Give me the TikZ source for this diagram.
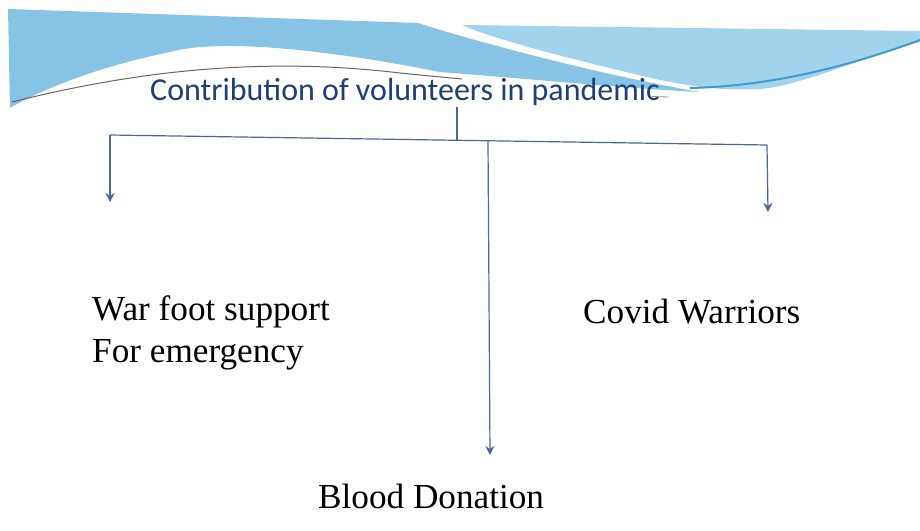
\documentclass[tikz,border=0pt]{standalone}
\usepackage{fontspec}
\setmainfont{Liberation Serif}
\newfontfamily\titlefont{Carlito}
\usetikzlibrary{arrows.meta}
\definecolor{bandA}{HTML}{86C3E4}
\definecolor{bandB}{HTML}{A2D3EC}
\definecolor{bandDark}{HTML}{3E9CCF}
\definecolor{titleblue}{HTML}{1E3F78}
\definecolor{linecol}{HTML}{4D6699}
\tikzset{
  conn/.style={draw=linecol, line width=1.2pt},
  arr/.style={conn, -{Stealth[length=9pt,width=9pt]}},
  lbl/.style={font=\fontsize{35.2}{42}\selectfont, text=black, inner sep=0pt, anchor=base west},
  ttl/.style={font=\titlefont\fontsize{32}{38}\selectfont, text=titleblue, inner sep=0pt, anchor=base west}
}
\begin{document}
\begin{tikzpicture}[x=1pt,y=-1pt]
\useasboundingbox (0,0) rectangle (920,530);
\fill[white] (0,0) rectangle (920,530);
% banner
\fill[bandA] (8,9) -- (418,23) .. controls (470,40) and (600,75) .. (700,92)
  .. controls (620,88) and (520,78) .. (440,72)
  .. controls (330,50) and (220,38) .. (170,52)
  .. controls (100,66) and (40,90) .. (10,108) -- cycle;
\fill[bandB] (462,25) -- (920,31) -- (920,42)
  .. controls (860,58) and (800,86) .. (760,89)
  .. controls (720,91) and (690,86) .. (660,80)
  .. controls (600,66) and (500,42) .. (462,25) -- cycle;
\draw[bandDark, line width=2pt] (690,88) .. controls (780,86) and (860,62) .. (920,40);
\draw[black!60, line width=1pt] (12,102) .. controls (120,75) and (250,55) .. (400,73)
  .. controls (430,76) and (450,78) .. (462,79);
\draw[black!45, line width=0.8pt] (652,96.5) -- (668,97);
% title
\node[ttl] (title) at (150,100) {Contribution of volunteers in pandemic};
% labels
\node[lbl] (war1) at (92,320) {War foot support};
\node[lbl] (war2) at (92,362) {For emergency};
\node[lbl] (covid) at (583,323) {Covid Warriors};
\node[lbl] (blood) at (318,508) {Blood Donation};
% connectors
\coordinate (tT) at (457,107);
\coordinate (jT) at (457,140.3);
\coordinate (jL) at (110,135);
\coordinate (jR) at (767,145);
\coordinate (jM) at (488,140.8);
\coordinate (eL) at (110,202);
\coordinate (eR) at (768,212);
\coordinate (eM) at (490,455);
\draw[conn] (tT) -- (jT);
\draw[conn] (jL) -- (jR);
\draw[arr] (jL) -- (eL);
\draw[arr] (jR) -- (eR);
\draw[arr] (jM) -- (eM);
\end{tikzpicture}
\end{document}
